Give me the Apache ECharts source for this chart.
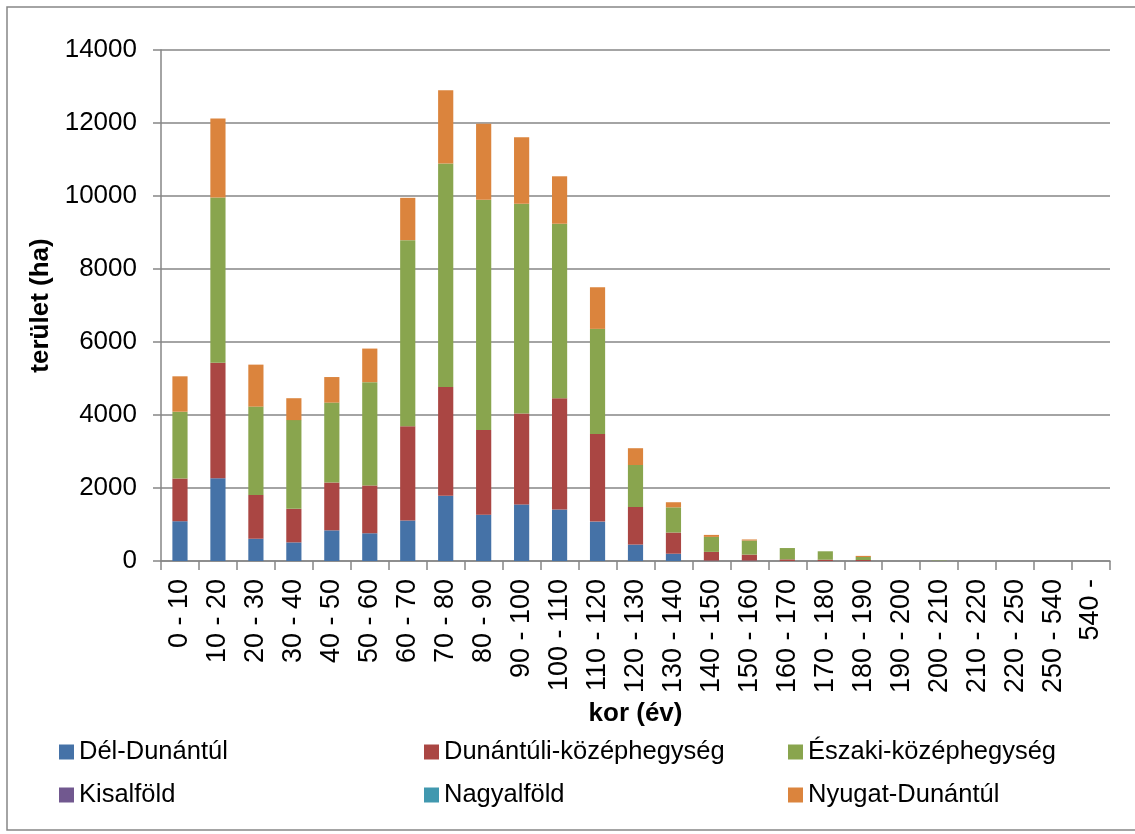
<!DOCTYPE html>
<html>
<head>
<meta charset="utf-8">
<script src="https://cdn.jsdelivr.net/npm/echarts@6/dist/echarts.min.js"></script>
<style>html,body{margin:0;padding:0;background:#fff;}#c{width:1135px;height:834px;}</style>
</head>
<body>
<div id="c"></div>
<script>
var categories = ['0 - 10','10 - 20','20 - 30','30 - 40','40 - 50','50 - 60','60 - 70','70 - 80','80 - 90','90 - 100','100 - 110','110 - 120','120 - 130','130 - 140','140 - 150','150 - 160','160 - 170','170 - 180','180 - 190','190 - 200','200 - 210','210 - 220','220 - 250','250 - 540','540 -'];
var delDunantul    = [1090,2270,610,510,840,760,1110,1790,1270,1550,1410,1080,450,200,10,10,0,0,0,0,0,0,0,0,0];
var dunantuliKh    = [1170,3160,1200,920,1310,1310,2580,2980,2320,2490,3050,2400,1030,580,240,165,45,36,27,0,0,0,0,0,0];
var eszakiKh       = [1830,4530,2420,2430,2190,2830,5100,6120,6310,5750,4780,2880,1150,690,410,385,310,230,83,0,10,0,0,0,0];
var kisalfold      = [0,0,0,0,0,0,0,0,0,0,0,0,0,0,0,0,0,0,0,0,0,0,0,0,0];
var nagyalfold     = [0,0,0,0,0,0,0,0,0,0,0,0,0,0,0,0,0,0,0,0,0,0,0,0,0];
var nyugatDunantul = [970,2160,1150,600,700,920,1160,2010,2080,1820,1300,1140,460,140,55,30,0,0,30,0,0,0,0,0,0];
var yTicks = {min: 0, max: 14000, interval: 2000};

var seriesNames = ['Dél-Dunántúl','Dunántúli-középhegység','Északi-középhegység','Kisalföld','Nagyalföld','Nyugat-Dunántúl'];
var seriesData = [delDunantul, dunantuliKh, eszakiKh, kisalfold, nagyalfold, nyugatDunantul];
var colors = ['#4572A7','#AA4643','#89A54E','#71588F','#4198AF','#DB843D'];
var FONT = '"Liberation Sans", Arial, sans-serif';
var GREY = '#868686';

var legendPos = [[59,739],[424,739],[788,739],[59,782],[424,782],[788,782]];
var legends = seriesNames.map(function(n,i){
  return {
    data:[n], left:legendPos[i][0], top:legendPos[i][1], orient:'horizontal',
    icon:'rect', itemWidth:15, itemHeight:15, padding:0, selectedMode:false,
    textStyle:{fontFamily:FONT, fontSize:25.5, color:'#000'}
  };
});

var chart = echarts.init(document.getElementById('c'), null, {renderer:'canvas'});
chart.setOption({
  animation:false,
  backgroundColor:'#fff',
  color: colors,
  graphic:[{type:'rect', shape:{x:7,y:7,width:1140,height:823}, style:{fill:'none', stroke:GREY, lineWidth:1.5}, silent:true}],
  legend: legends,
  grid:{left:161, right:25, top:50, bottom:273, containLabel:false},
  xAxis:{
    type:'category', data:categories,
    name:'kor (év)', nameLocation:'middle', nameGap:139,
    nameTextStyle:{fontFamily:FONT, fontSize:26, fontWeight:'bold', color:'#000'},
    axisLine:{lineStyle:{color:GREY, width:1.5}},
    axisTick:{show:true, alignWithLabel:false, interval:0, length:9, lineStyle:{color:GREY, width:1.5}},
    axisLabel:{interval:0, rotate:90, margin:18, fontFamily:FONT, fontSize:27, color:'#000'},
    splitLine:{show:false}
  },
  yAxis:{
    type:'value', min:yTicks.min, max:yTicks.max, interval:yTicks.interval,
    name:'terület (ha)', nameLocation:'middle', nameGap:98,
    nameTextStyle:{fontFamily:FONT, fontSize:26, fontWeight:'bold', color:'#000'},
    axisLine:{show:true, lineStyle:{color:GREY, width:1.5}},
    axisTick:{show:true, length:8, lineStyle:{color:GREY, width:1.5}},
    axisLabel:{margin:24, fontFamily:FONT, fontSize:26, color:'#000', formatter:function(v){return String(v);}},
    splitLine:{show:true, lineStyle:{color:GREY, width:1.5}}
  },
  series: seriesNames.map(function(n,i){
    return {name:n, type:'bar', stack:'total', barWidth:'40%', data:seriesData[i], itemStyle:{color:colors[i]}};
  })
});
</script>
</body>
</html>
